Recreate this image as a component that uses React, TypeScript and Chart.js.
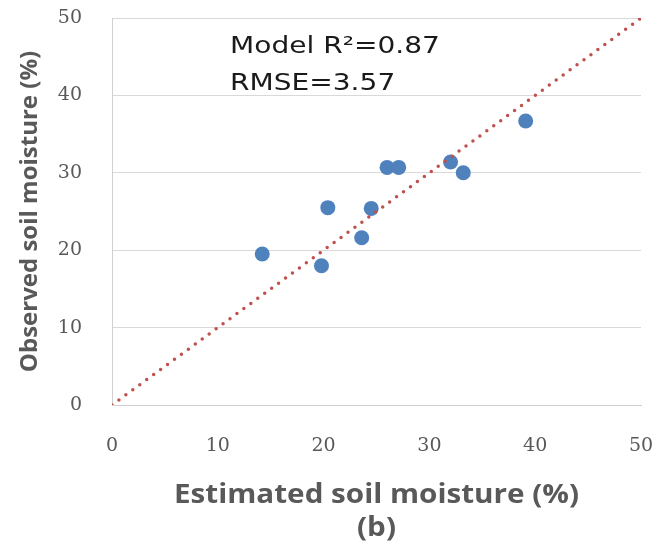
import React, { useEffect, useRef } from "react";
import { Chart, registerables } from "chart.js";

Chart.register(...registerables);

// Data
const estimated = [14.2, 19.8, 20.4, 23.6, 24.5, 26.0, 27.1, 32.0, 33.2, 39.1];
const observed = [19.5, 18.0, 25.5, 21.6, 25.4, 30.7, 30.7, 31.4, 30.0, 36.7];
const oneToOneX = [0, 50];
const oneToOneY = [0, 50];
const axisMin = 0;
const axisMax = 50;
const axisStep = 10;
const annotationLines = ["Model R\u00B2=0.87", "RMSE=3.57"];
const xTitle = ["Estimated soil moisture (%)", "(b)"];
const yTitle = "Observed soil moisture (%)";

const textPlugin = {
  id: "extraText",
  afterDraw(chart: any) {
    const { ctx, chartArea } = chart;
    const yScale = chart.scales.y;

    // y tick labels, placed from the y scale's own ticks
    ctx.save();
    ctx.font = '19px "DejaVu Serif"';
    ctx.fillStyle = "#595959";
    ctx.textAlign = "right";
    ctx.textBaseline = "middle";
    yScale.ticks.forEach((t: any) => {
      ctx.fillText(String(t.value), chartArea.left - 30, yScale.getPixelForValue(t.value));
    });
    ctx.restore();

    ctx.save();
    ctx.font = '23px "DejaVu Sans"';
    ctx.fillStyle = "#1a1a1a";
    ctx.textBaseline = "alphabetic";
    ctx.textAlign = "left";
    ctx.translate(chartArea.left + 118, chartArea.top);
    ctx.scale(1.22, 1);
    ctx.fillText(annotationLines[0], 0, 35);
    ctx.fillText(annotationLines[1], 0, 72);
    ctx.restore();

    ctx.save();
    ctx.font = 'bold 26px "Open Sans"';
    ctx.fillStyle = "#595959";
    ctx.textBaseline = "middle";
    ctx.textAlign = "center";
    ctx.translate((chartArea.left + chartArea.right) / 2, chartArea.bottom);
    ctx.scale(1.14, 1);
    ctx.fillText(xTitle[0], 0, 91);
    ctx.fillText(xTitle[1], 0, 124);
    ctx.restore();
  },
};

export default function App() {
  const ref = useRef<HTMLCanvasElement>(null);
  useEffect(() => {
    if (!ref.current) return;
    const chart = new Chart(ref.current, {
      type: "scatter",
      data: {
        datasets: [
          {
            type: "line",
            data: oneToOneX.map((x, i) => ({ x, y: oneToOneY[i] })),
            borderColor: "#C0504D",
            borderWidth: 3.5,
            borderDash: [0, 8.6],
            borderCapStyle: "round",
            pointRadius: 0,
            fill: false,
          } as any,
          {
            data: estimated.map((x, i) => ({ x, y: observed[i] })),
            backgroundColor: "#4F81BD",
            borderWidth: 0,
            pointRadius: 7.5,
          },
        ],
      },
      options: {
        responsive: false,
        animation: false,
        layout: { padding: { top: 18, right: 31, left: 0, bottom: 0 } },
        plugins: { legend: { display: false }, tooltip: { enabled: false } },
        scales: {
          x: {
            type: "linear",
            min: axisMin,
            max: axisMax,
            ticks: {
              stepSize: axisStep,
              padding: 30,
              color: "#595959",
              font: { family: '"DejaVu Serif"', size: 19 },
            },
            grid: { display: false, drawTicks: false },
            border: { display: true, color: "#d0d0d0", width: 1 },
            title: { display: false },
            afterFit: (s: any) => {
              s.height = 144;
              s.paddingLeft = 0;
              s.paddingRight = 0;
            },
          },
          y: {
            type: "linear",
            min: axisMin,
            max: axisMax,
            ticks: {
              stepSize: axisStep,
              display: false,
            },
            grid: { color: "#d9d9d9", lineWidth: 1, drawTicks: false },
            border: { display: true, color: "#d0d0d0", width: 1 },
            title: {
              display: true,
              text: yTitle,
              color: "#595959",
              font: { family: '"Open Sans"', size: 24, weight: "bold", lineHeight: 1.2 },
              padding: { top: 16, bottom: 0 },
            },
            afterFit: (s: any) => {
              s.width = 112;
              s.paddingTop = 0;
              s.paddingBottom = 0;
            },
          },
        },
      },
      plugins: [textPlugin],
    });
    return () => chart.destroy();
  }, []);
  return (
    <div style={{ position: "fixed", left: 0, top: 0, width: 672, height: 549, background: "#fff" }}>
      <canvas ref={ref} width={672} height={549} style={{ display: "block" }} />
    </div>
  );
}
